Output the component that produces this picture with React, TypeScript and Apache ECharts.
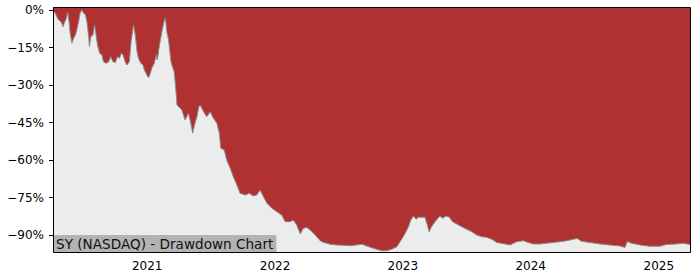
import React, { useEffect, useRef } from "react";
import * as echarts from "echarts";

const dates: string[] = [
  "2020-04-07","2020-04-12","2020-04-18","2020-04-23","2020-04-30","2020-05-06","2020-05-09","2020-05-15","2020-05-19","2020-05-23",
  "2020-05-26","2020-05-31","2020-06-05","2020-06-10","2020-06-14","2020-06-19","2020-06-24","2020-06-29","2020-07-03","2020-07-08",
  "2020-07-13","2020-07-18","2020-07-20","2020-07-24","2020-07-30","2020-08-04","2020-08-08","2020-08-12","2020-08-18","2020-08-25",
  "2020-08-29","2020-09-06","2020-09-13","2020-09-19","2020-09-25","2020-10-02","2020-10-08","2020-10-14","2020-10-19","2020-10-24",
  "2020-10-30","2020-11-04","2020-11-11","2020-11-16","2020-11-23","2020-11-28","2020-12-03","2020-12-07","2020-12-14","2020-12-20",
  "2020-12-24","2020-12-31","2021-01-05","2021-01-10","2021-01-14","2021-01-21","2021-01-27","2021-01-30","2021-02-05","2021-02-12",
  "2021-02-19","2021-02-22","2021-02-26","2021-03-03","2021-03-10","2021-03-14","2021-03-19","2021-03-22","2021-03-25","2021-03-27",
  "2021-04-10","2021-04-19","2021-04-29","2021-05-05","2021-05-11","2021-05-16","2021-05-23","2021-05-28","2021-06-01","2021-06-11",
  "2021-06-20","2021-06-30","2021-07-09","2021-07-19","2021-07-26","2021-07-30","2021-08-09","2021-08-16","2021-08-26","2021-09-04",
  "2021-09-14","2021-09-23","2021-10-08","2021-10-20","2021-10-30","2021-11-10","2021-11-19","2021-11-29","2021-12-09","2021-12-23",
  "2022-01-06","2022-01-20","2022-01-30","2022-02-13","2022-02-22","2022-03-04","2022-03-14","2022-03-23","2022-04-02","2022-04-11",
  "2022-04-21","2022-04-30","2022-05-10","2022-05-19","2022-05-29","2022-06-07","2022-06-26","2022-07-15","2022-08-03","2022-08-22",
  "2022-09-06","2022-09-20","2022-10-04","2022-10-18","2022-11-02","2022-11-16","2022-11-30","2022-12-15","2022-12-24","2023-01-02",
  "2023-01-10","2023-01-17","2023-01-23","2023-01-31","2023-02-08","2023-02-14","2023-02-24","2023-03-05","2023-03-12","2023-03-17",
  "2023-03-24","2023-04-03","2023-04-11","2023-04-17","2023-04-25","2023-05-04","2023-05-14","2023-05-23","2023-06-04","2023-06-18",
  "2023-07-02","2023-07-17","2023-07-31","2023-08-14","2023-08-28","2023-09-12","2023-09-26","2023-10-20","2023-11-03","2023-11-22",
  "2023-12-11","2023-12-25","2024-01-08","2024-01-27","2024-02-16","2024-03-05","2024-03-24","2024-04-13","2024-05-01","2024-05-13",
  "2024-05-25","2024-06-18","2024-07-17","2024-08-14","2024-09-12","2024-09-26","2024-10-03","2024-10-15","2024-11-08","2024-12-06",
  "2025-01-04","2025-01-23","2025-02-20","2025-03-11","2025-03-31",
];

const drawdown: number[] = [
  -0.4,-1.0,-2.7,-4.0,-4.7,-6.7,-5.3,-3.3,-0.9,-4.7,
  -9.3,-13.3,-11.3,-10.0,-8.0,-4.7,-0.9,0.0,-1.3,-1.7,
  -4.7,-10.7,-14.7,-10.7,-10.0,-6.0,-10.0,-14.0,-17.3,-18.0,
  -20.7,-21.3,-20.7,-18.7,-20.7,-21.0,-18.7,-19.3,-17.3,-18.0,
  -20.7,-22.0,-20.7,-12.7,-6.0,-10.0,-16.7,-19.3,-21.3,-22.0,
  -24.0,-26.0,-27.1,-25.3,-23.3,-21.3,-18.0,-20.0,-14.0,-8.7,
  -4.0,-3.3,-8.7,-12.0,-20.7,-22.7,-24.7,-29.0,-34.0,-38.0,
  -40.0,-44.0,-41.3,-45.0,-49.3,-46.0,-42.7,-39.0,-38.0,-40.7,
  -42.7,-40.7,-43.3,-45.3,-49.3,-55.3,-56.0,-60.0,-63.3,-66.7,
  -70.0,-73.3,-74.0,-73.3,-74.4,-74.0,-72.0,-74.7,-77.3,-79.3,
  -80.7,-82.0,-84.7,-84.7,-84.0,-86.0,-89.6,-87.3,-87.0,-88.0,
  -89.3,-90.7,-92.3,-93.0,-93.3,-93.7,-94.0,-94.1,-94.3,-94.0,
  -93.7,-94.4,-95.1,-95.7,-96.3,-96.3,-95.7,-94.7,-92.7,-90.7,
  -88.7,-86.7,-84.3,-82.4,-83.7,-82.9,-82.9,-82.9,-86.0,-88.7,
  -86.7,-84.7,-83.3,-82.4,-83.3,-82.4,-82.9,-84.7,-85.6,-86.7,
  -87.7,-88.7,-90.0,-90.7,-90.9,-91.7,-93.0,-93.6,-94.0,-92.7,
  -92.3,-93.0,-93.6,-93.6,-93.3,-93.0,-92.7,-92.3,-91.7,-91.4,
  -92.5,-93.0,-93.6,-94.0,-94.4,-95.0,-92.6,-93.3,-94.0,-94.5,
  -94.5,-93.8,-93.6,-93.3,-93.8,
];

const yTicks: number[] = [0, -15, -30, -45, -60, -75, -90];
const xTickDates: string[] = ["2021-01-01", "2022-01-01", "2023-01-01", "2024-01-01", "2025-01-01"];
const chartTitle = "SY (NASDAQ) - Drawdown Chart";

const FONT = "DejaVu Sans";
const ts = (d: string) => Date.parse(d + "T00:00:00Z");

export default function App() {
  const ref = useRef<HTMLDivElement>(null);
  useEffect(() => {
    if (!ref.current) return;
    const chart = echarts.init(ref.current, undefined, { renderer: "svg" });
    const seriesData = dates.map((d, i) => [ts(d), drawdown[i]]);
    const xTickValues = xTickDates.map(ts);
    chart.setOption({
      animation: false,
      grid: {
        left: 53,
        right: 10,
        top: 7,
        bottom: 28,
        show: true,
        backgroundColor: "#ececec",
        borderWidth: 0,
      },
      title: {
        text: chartTitle,
        left: 53,
        top: 235,
        padding: [1, 3, 1, 3],
        backgroundColor: "#b3b3b3",
        textStyle: {
          fontFamily: FONT,
          fontSize: 13.6,
          fontWeight: "normal",
          color: "#111",
          lineHeight: 15,
        },
        z: 20,
      },
      xAxis: {
        type: "value",
        min: ts(dates[0]),
        max: ts(dates[dates.length - 1]),
        axisLine: { show: false },
        splitLine: { show: false },
        axisTick: {
          show: true,
          length: 4,
          lineStyle: { color: "#000" },
          customValues: xTickValues,
        },
        axisLabel: {
          fontFamily: FONT,
          fontSize: 12,
          color: "#000",
          margin: 8,
          customValues: xTickValues,
          formatter: (v: number) => String(new Date(v).getUTCFullYear()),
        },
      },
      yAxis: {
        type: "value",
        min: -96.8,
        max: 1.2,
        axisLine: { show: false },
        splitLine: { show: false },
        axisTick: {
          show: true,
          length: 4,
          lineStyle: { color: "#000" },
          customValues: yTicks,
        },
        axisLabel: {
          fontFamily: FONT,
          fontSize: 12,
          color: "#000",
          margin: 9,
          customValues: yTicks,
          formatter: (v: number) => String(v).replace("-", "\u2212") + "%",
        },
      },
      series: [
        {
          type: "line",
          data: seriesData,
          showSymbol: false,
          symbol: "none",
          lineStyle: { color: "#8c8c8c", width: 1 },
          areaStyle: { color: "#b03131", opacity: 1, origin: "end" },
          z: 2,
        },
      ],
      graphic: [
        {
          type: "rect",
          shape: { x: 53.5, y: 7.5, width: 637, height: 245 },
          style: { fill: "none", stroke: "#000", lineWidth: 1 },
          z: 100,
          silent: true,
        },
      ],
    });
    return () => chart.dispose();
  }, []);
  return (
    <div
      ref={ref}
      style={{ position: "fixed", left: 0, top: 0, width: 700, height: 280, background: "#fff" }}
    />
  );
}
